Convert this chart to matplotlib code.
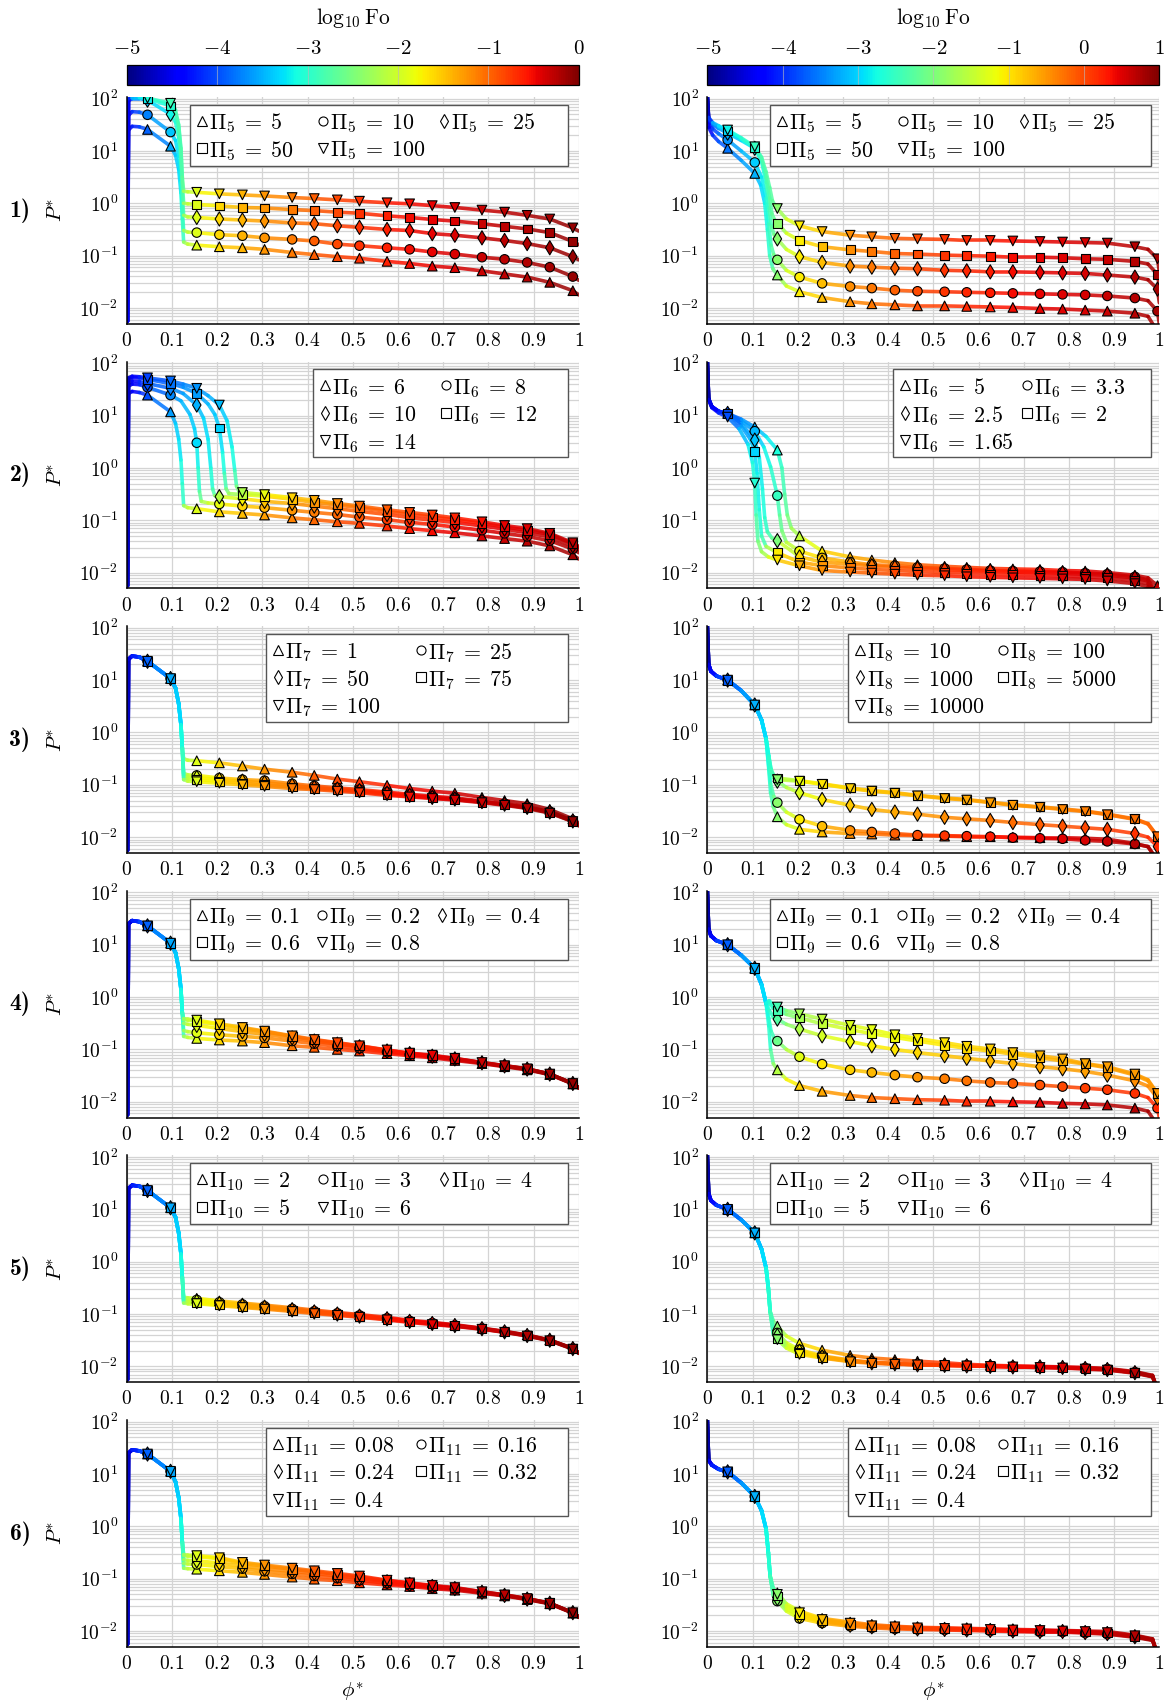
import numpy as np
import matplotlib
matplotlib.use("Agg")
import matplotlib.pyplot as plt
from matplotlib.collections import LineCollection
from matplotlib.colors import Normalize
from matplotlib.cm import ScalarMappable
from matplotlib.patches import Rectangle
from matplotlib.ticker import FixedLocator, LogLocator, NullFormatter

plt.rcParams["mathtext.fontset"] = "cm"
plt.rcParams["font.family"] = ["DejaVu Serif"]

# ---------------------------------------------------------------------------
# marker positions along phi* (shared by every curve of a column)
phi_left = [0.046, 0.097, 0.155, 0.205, 0.256, 0.305, 0.366, 0.415, 0.466, 0.515,
            0.576, 0.626, 0.676, 0.726, 0.786, 0.836, 0.886, 0.936, 0.987]
phi_right = [0.045, 0.105, 0.155, 0.204, 0.254, 0.316, 0.364, 0.415, 0.465, 0.525,
             0.574, 0.626, 0.676, 0.736, 0.786, 0.836, 0.885, 0.946, 0.996]

# log10 P* at the marker positions; extra (phi*, log10 P*) points of each line

# --- row 1, left: Pi_5
r1L_lab = ["5", "10", "25", "50", "100"]
r1L_y0 = [1.41, 1.09, -0.80, -0.83, -0.85, -0.88, -0.94, -0.98, -1.02, -1.05, -1.11, -1.15, -1.20, -1.23, -1.29, -1.35, -1.41, -1.51, -1.67]
r1L_y1 = [1.69, 1.36, -0.56, -0.60, -0.62, -0.66, -0.69, -0.72, -0.78, -0.81, -0.85, -0.88, -0.93, -0.97, -1.03, -1.07, -1.13, -1.22, -1.40]
r1L_y2 = [1.97, 1.70, -0.27, -0.30, -0.32, -0.34, -0.375, -0.39, -0.43, -0.46, -0.50, -0.52, -0.58, -0.61, -0.66, -0.71, -0.77, -0.85, -1.02]
r1L_y3 = [2.0, 1.86, -0.02, -0.05, -0.08, -0.09, -0.12, -0.14, -0.17, -0.19, -0.24, -0.27, -0.31, -0.34, -0.39, -0.44, -0.49, -0.56, -0.73]
r1L_y4 = [2.01, 1.91, 0.21, 0.18, 0.16, 0.14, 0.11, 0.09, 0.065, 0.04, 0.01, -0.01, -0.045, -0.08, -0.13, -0.17, -0.23, -0.30, -0.47]
r1L_k0 = [(0.002, -2.25), (0.004, 1.40), (0.012, 1.47), (0.028, 1.46), (0.108, 0.92), (0.115, 0.65), (0.12, 0.2), (0.123, -0.3), (0.126, -0.74), (0.135, -0.78), (1.0, -1.75)]
r1L_k1 = [(0.002, -2.25), (0.004, 1.68), (0.012, 1.75), (0.028, 1.74), (0.108, 1.2), (0.115, 0.9), (0.12, 0.4), (0.123, -0.1), (0.126, -0.52), (0.135, -0.55), (1.0, -1.47)]
r1L_k2 = [(0.002, -2.25), (0.004, 1.96), (0.012, 2.0), (0.028, 2.0), (0.108, 1.55), (0.115, 1.25), (0.12, 0.8), (0.123, 0.2), (0.126, -0.23), (0.135, -0.26), (1.0, -1.08)]
r1L_k3 = [(0.002, -2.25), (0.004, 1.99), (0.012, 2.02), (0.028, 2.02), (0.108, 1.72), (0.115, 1.45), (0.12, 1.0), (0.123, 0.4), (0.126, 0.0), (0.135, -0.01), (1.0, -0.79)]
r1L_k4 = [(0.002, -2.25), (0.004, 2.0), (0.012, 2.02), (0.028, 2.02), (0.108, 1.78), (0.115, 1.5), (0.12, 1.05), (0.123, 0.5), (0.126, 0.23), (0.135, 0.22), (1.0, -0.53)]

# --- row 1, right: Pi_5
r1R_lab = ["5", "10", "25", "50", "100"]
r1R_y0 = [1.05, 0.57, -1.37, -1.69, -1.80, -1.88, -1.92, -1.94, -1.96, -1.96, -1.97, -1.98, -1.99, -2.01, -2.02, -2.04, -2.06, -2.10, -2.45]
r1R_y1 = [1.21, 0.78, -1.08, -1.41, -1.53, -1.59, -1.62, -1.66, -1.68, -1.69, -1.70, -1.71, -1.72, -1.73, -1.74, -1.75, -1.77, -1.81, -2.06]
r1R_y2 = [1.34, 1.05, -0.68, -1.02, -1.13, -1.20, -1.22, -1.24, -1.25, -1.28, -1.29, -1.31, -1.31, -1.32, -1.33, -1.34, -1.37, -1.41, -1.64]
r1R_y3 = [1.38, 1.06, -0.38, -0.71, -0.83, -0.89, -0.92, -0.96, -0.97, -0.99, -1.00, -1.01, -1.03, -1.03, -1.04, -1.06, -1.07, -1.11, -1.36]
r1R_y4 = [1.40, 1.08, -0.10, -0.43, -0.54, -0.61, -0.64, -0.67, -0.68, -0.69, -0.71, -0.71, -0.72, -0.73, -0.74, -0.75, -0.76, -0.83, -1.06]
r1R_k0 = [(0.0, 2.05), (0.003, 1.45), (0.012, 1.3), (0.025, 1.18), (0.075, 0.82), (0.118, 0.35), (0.127, 0.0), (0.133, -0.5), (0.138, -1.0), (0.145, -1.25), (0.175, -1.58), (0.975, -2.16)]
r1R_k1 = [(0.0, 2.05), (0.003, 1.55), (0.012, 1.42), (0.025, 1.33), (0.075, 1.0), (0.12, 0.5), (0.13, 0.1), (0.136, -0.4), (0.141, -0.8), (0.147, -0.98), (0.175, -1.28), (0.975, -1.86), (1.0, -2.3)]
r1R_k2 = [(0.0, 2.05), (0.003, 1.6), (0.012, 1.5), (0.025, 1.43), (0.075, 1.2), (0.12, 0.8), (0.13, 0.4), (0.137, -0.1), (0.142, -0.45), (0.148, -0.6), (0.175, -0.88), (0.975, -1.46), (1.0, -1.9)]
r1R_k3 = [(0.0, 2.05), (0.003, 1.62), (0.012, 1.52), (0.025, 1.46), (0.075, 1.23), (0.12, 0.85), (0.13, 0.5), (0.138, 0.1), (0.143, -0.2), (0.149, -0.32), (0.175, -0.57), (0.975, -1.16), (1.0, -1.6)]
r1R_k4 = [(0.0, 2.05), (0.003, 1.64), (0.012, 1.54), (0.025, 1.48), (0.075, 1.25), (0.12, 0.88), (0.13, 0.6), (0.138, 0.3), (0.144, 0.05), (0.15, -0.05), (0.175, -0.3), (0.975, -0.88), (1.0, -1.3)]

# --- row 2, left: Pi_6
r2L_lab = ["6", "8", "10", "12", "14"]
r2L_y0 = [1.39, 1.07, -0.78, -0.84, -0.87, -0.90, -0.955, -0.99, -1.03, -1.06, -1.11, -1.16, -1.20, -1.24, -1.30, -1.35, -1.40, -1.49, -1.66]
r2L_y1 = [1.54, 1.39, 0.48, -0.69, -0.73, -0.76, -0.81, -0.85, -0.89, -0.94, -0.99, -1.04, -1.08, -1.13, -1.19, -1.25, -1.31, -1.39, -1.55]
r2L_y2 = [1.61, 1.52, 1.20, -0.55, -0.59, -0.64, -0.68, -0.73, -0.78, -0.83, -0.89, -0.95, -1.00, -1.04, -1.11, -1.17, -1.24, -1.32, -1.49]
r2L_y3 = [1.69, 1.61, 1.42, 0.76, -0.51, -0.54, -0.60, -0.66, -0.71, -0.76, -0.83, -0.89, -0.94, -0.99, -1.06, -1.13, -1.19, -1.27, -1.45]
r2L_y4 = [1.72, 1.66, 1.52, 1.20, -0.47, -0.51, -0.57, -0.62, -0.68, -0.73, -0.80, -0.85, -0.90, -0.955, -1.03, -1.10, -1.16, -1.25, -1.43]
r2L_k0 = [(0.002, -2.25), (0.004, 1.42), (0.012, 1.46), (0.028, 1.44), (0.108, 0.85), (0.115, 0.55), (0.12, 0.15), (0.123, -0.3), (0.126, -0.72), (0.135, -0.76), (1.0, -1.74)]
r2L_k1 = [(0.002, -2.25), (0.004, 1.56), (0.012, 1.6), (0.028, 1.59), (0.12, 1.28), (0.14, 1.02), (0.15, 0.75), (0.158, 0.0), (0.161, -0.45), (0.165, -0.64), (0.18, -0.67), (1.0, -1.62)]
r2L_k2 = [(0.002, -2.25), (0.004, 1.62), (0.012, 1.66), (0.028, 1.65), (0.125, 1.42), (0.17, 0.95), (0.18, 0.55), (0.186, 0.0), (0.19, -0.4), (0.195, -0.53), (1.0, -1.56)]
r2L_k3 = [(0.002, -2.25), (0.004, 1.7), (0.012, 1.73), (0.028, 1.72), (0.125, 1.54), (0.18, 1.22), (0.195, 1.02), (0.212, 0.3), (0.216, -0.1), (0.22, -0.4), (0.226, -0.49), (1.0, -1.52)]
r2L_k4 = [(0.002, -2.25), (0.004, 1.72), (0.012, 1.75), (0.028, 1.74), (0.125, 1.6), (0.18, 1.38), (0.222, 0.9), (0.233, 0.4), (0.239, -0.05), (0.243, -0.35), (0.249, -0.46), (1.0, -1.50)]

# --- row 2, right: Pi_6
r2R_lab = ["5", "3.3", "2.5", "2", "1.65"]
r2R_y0 = [1.04, 0.78, 0.34, -1.30, -1.59, -1.70, -1.76, -1.81, -1.85, -1.88, -1.90, -1.92, -1.93, -1.94, -1.96, -1.97, -2.00, -2.05, -2.25]
r2R_y1 = [1.04, 0.70, -0.53, -1.59, -1.72, -1.80, -1.85, -1.87, -1.90, -1.92, -1.94, -1.96, -1.97, -1.98, -1.99, -2.01, -2.03, -2.08, -2.40]
r2R_y2 = [1.04, 0.53, -1.39, -1.70, -1.80, -1.84, -1.87, -1.90, -1.92, -1.94, -1.96, -1.97, -1.99, -2.00, -2.01, -2.03, -2.05, -2.10, -2.45]
r2R_y3 = [1.04, 0.32, -1.62, -1.80, -1.87, -1.91, -1.94, -1.96, -1.98, -2.00, -2.01, -2.03, -2.04, -2.05, -2.06, -2.08, -2.10, -2.15, -2.50]
r2R_y4 = [0.97, -0.29, -1.76, -1.87, -1.96, -1.99, -2.01, -2.03, -2.05, -2.06, -2.08, -2.09, -2.10, -2.11, -2.12, -2.13, -2.16, -2.21, -2.55]
r2R_k0 = [(0.0, 2.05), (0.003, 1.32), (0.01, 1.17), (0.025, 1.08), (0.075, 0.93), (0.13, 0.6), (0.165, 0.0), (0.171, -0.5), (0.177, -0.9), (0.186, -1.15), (0.975, -2.1), (1.0, -2.35)]
r2R_k1 = [(0.0, 2.05), (0.003, 1.32), (0.01, 1.17), (0.025, 1.08), (0.075, 0.9), (0.125, 0.4), (0.14, 0.02), (0.16, -0.9), (0.165, -1.2), (0.175, -1.42), (0.975, -2.14)]
r2R_k2 = [(0.0, 2.05), (0.003, 1.32), (0.01, 1.17), (0.025, 1.08), (0.075, 0.85), (0.115, 0.2), (0.122, -0.4), (0.127, -0.95), (0.133, -1.22), (0.143, -1.34), (0.975, -2.16)]
r2R_k3 = [(0.0, 2.05), (0.003, 1.32), (0.01, 1.17), (0.025, 1.08), (0.075, 0.8), (0.095, 0.55), (0.11, -0.1), (0.115, -0.8), (0.12, -1.3), (0.13, -1.5), (0.975, -2.21)]
r2R_k4 = [(0.0, 2.05), (0.003, 1.30), (0.01, 1.15), (0.025, 1.05), (0.07, 0.75), (0.09, 0.45), (0.1, 0.1), (0.108, -0.9), (0.112, -1.4), (0.12, -1.6), (0.135, -1.7), (0.975, -2.27)]

# --- row 3, left: Pi_7
r3L_lab = ["1", "25", "50", "75", "100"]
r3L_y0 = [1.36, 1.03, -0.54, -0.58, -0.64, -0.70, -0.76, -0.82, -0.89, -0.94, -1.01, -1.07, -1.12, -1.16, -1.24, -1.30, -1.36, -1.47, -1.65]
r3L_y1 = [1.36, 1.03, -0.82, -0.87, -0.90, -0.92, -0.98, -1.02, -1.06, -1.09, -1.14, -1.18, -1.22, -1.25, -1.31, -1.36, -1.42, -1.51, -1.68]
r3L_y2 = [1.36, 1.03, -0.86, -0.90, -0.93, -0.96, -1.01, -1.05, -1.08, -1.11, -1.16, -1.20, -1.24, -1.27, -1.32, -1.37, -1.43, -1.52, -1.69]
r3L_y3 = [1.36, 1.03, -0.90, -0.93, -0.97, -1.00, -1.04, -1.07, -1.10, -1.13, -1.18, -1.22, -1.25, -1.28, -1.33, -1.38, -1.44, -1.53, -1.70]
r3L_y4 = [1.36, 1.03, -0.94, -0.97, -1.00, -1.03, -1.07, -1.09, -1.12, -1.15, -1.20, -1.23, -1.26, -1.29, -1.34, -1.39, -1.45, -1.54, -1.70]
left_head = [(0.002, -2.25), (0.004, 1.40), (0.012, 1.46), (0.028, 1.44), (0.108, 0.85), (0.115, 0.55), (0.12, 0.15), (0.123, -0.3)]
r3L_k0 = [(0.126, -0.5), (0.135, -0.53), (1.0, -1.73)]
r3L_k1 = [(0.126, -0.78), (0.135, -0.81), (1.0, -1.76)]
r3L_k2 = [(0.126, -0.82), (0.135, -0.85), (1.0, -1.77)]
r3L_k3 = [(0.126, -0.86), (0.135, -0.89), (1.0, -1.78)]
r3L_k4 = [(0.126, -0.90), (0.135, -0.93), (1.0, -1.78)]

# --- row 3, right: Pi_8
r3R_lab = ["10", "100", "1000", "5000", "10000"]
r3R_y0 = [1.0, 0.525, -1.61, -1.85, -1.90, -1.93, -1.94, -1.96, -1.97, -1.98, -1.99, -1.99, -2.0, -2.01, -2.01, -2.02, -2.04, -2.12, -2.45]
r3R_y1 = [1.0, 0.525, -1.34, -1.66, -1.79, -1.87, -1.90, -1.93, -1.96, -1.97, -1.98, -1.99, -2.01, -2.02, -2.03, -2.06, -2.08, -2.13, -2.45]
r3R_y2 = [1.0, 0.525, -0.93, -1.15, -1.28, -1.39, -1.47, -1.52, -1.56, -1.62, -1.65, -1.68, -1.72, -1.76, -1.79, -1.82, -1.85, -1.93, -2.18]
r3R_y3 = [1.0, 0.525, -0.87, -0.92, -0.98, -1.06, -1.11, -1.15, -1.20, -1.25, -1.28, -1.33, -1.38, -1.42, -1.46, -1.50, -1.56, -1.65, -1.98]
r3R_y4 = [1.0, 0.525, -0.90, -0.93, -0.99, -1.07, -1.12, -1.16, -1.21, -1.26, -1.29, -1.34, -1.39, -1.43, -1.47, -1.51, -1.57, -1.66, -1.99]
right_head = [(0.0, 2.05), (0.003, 1.3), (0.008, 1.17), (0.02, 1.08), (0.075, 0.8), (0.12, 0.24), (0.13, -0.12)]
r3R_k0 = [(0.136, -0.7), (0.14, -1.15), (0.146, -1.42), (0.175, -1.76), (0.975, -2.18)]
r3R_k1 = [(0.136, -0.65), (0.14, -0.98), (0.147, -1.22), (0.175, -1.52), (0.975, -2.18)]
r3R_k2 = [(0.136, -0.5), (0.141, -0.75), (0.147, -0.87), (0.175, -1.05), (0.975, -2.0), (1.0, -2.35)]
r3R_k3 = [(0.136, -0.45), (0.141, -0.7), (0.147, -0.82), (0.975, -1.74), (1.0, -2.1)]
r3R_k4 = [(0.136, -0.45), (0.141, -0.72), (0.147, -0.85), (0.975, -1.75), (1.0, -2.1)]

# --- row 4, left: Pi_9
r4L_lab = ["0.1", "0.2", "0.4", "0.6", "0.8"]
r4L_y0 = [1.36, 1.03, -0.79, -0.82, -0.84, -0.87, -0.93, -0.96, -1.00, -1.03, -1.08, -1.12, -1.16, -1.21, -1.27, -1.33, -1.39, -1.48, -1.66]
r4L_y1 = [1.36, 1.03, -0.68, -0.72, -0.75, -0.78, -0.84, -0.89, -0.94, -0.98, -1.05, -1.10, -1.14, -1.19, -1.26, -1.32, -1.38, -1.475, -1.655]
r4L_y2 = [1.36, 1.03, -0.54, -0.60, -0.66, -0.71, -0.78, -0.84, -0.90, -0.95, -1.03, -1.08, -1.13, -1.18, -1.255, -1.315, -1.375, -1.47, -1.65]
r4L_y3 = [1.36, 1.03, -0.46, -0.53, -0.60, -0.66, -0.75, -0.82, -0.88, -0.935, -1.015, -1.075, -1.12, -1.175, -1.25, -1.31, -1.37, -1.47, -1.65]
r4L_y4 = [1.36, 1.03, -0.44, -0.51, -0.58, -0.65, -0.74, -0.81, -0.87, -0.93, -1.01, -1.07, -1.11, -1.17, -1.25, -1.31, -1.37, -1.47, -1.65]
r4L_k0 = [(0.126, -0.75), (0.135, -0.77), (1.0, -1.74)]
r4L_k1 = [(0.126, -0.64), (0.135, -0.66), (1.0, -1.73)]
r4L_k2 = [(0.126, -0.5), (0.135, -0.52), (1.0, -1.73)]
r4L_k3 = [(0.126, -0.43), (0.135, -0.44), (1.0, -1.73)]
r4L_k4 = [(0.126, -0.41), (0.135, -0.42), (1.0, -1.73)]

# --- row 4, right: Pi_9
r4R_lab = ["0.1", "0.2", "0.4", "0.6", "0.8"]
r4R_y0 = [1.0, 0.55, -1.39, -1.69, -1.80, -1.88, -1.92, -1.94, -1.96, -1.97, -1.99, -1.99, -2.0, -2.01, -2.03, -2.04, -2.06, -2.12, -2.45]
r4R_y1 = [1.0, 0.55, -0.84, -1.14, -1.28, -1.39, -1.44, -1.49, -1.53, -1.56, -1.60, -1.63, -1.65, -1.68, -1.71, -1.74, -1.77, -1.84, -2.12]
r4R_y2 = [1.0, 0.55, -0.42, -0.61, -0.74, -0.85, -0.93, -1.0, -1.06, -1.12, -1.17, -1.22, -1.27, -1.33, -1.37, -1.42, -1.49, -1.60, -1.93]
r4R_y3 = [1.0, 0.55, -0.25, -0.40, -0.51, -0.62, -0.70, -0.77, -0.84, -0.92, -0.98, -1.03, -1.09, -1.16, -1.22, -1.28, -1.35, -1.49, -1.85]
r4R_y4 = [1.0, 0.55, -0.19, -0.32, -0.42, -0.54, -0.62, -0.72, -0.79, -0.87, -0.94, -0.99, -1.06, -1.12, -1.18, -1.27, -1.33, -1.47, -1.84]
r4R_k0 = [(0.136, -0.55), (0.14, -1.0), (0.146, -1.27), (0.175, -1.57), (0.975, -2.18)]
r4R_k1 = [(0.136, -0.4), (0.141, -0.65), (0.148, -0.78), (0.175, -1.0), (0.975, -1.92), (1.0, -2.3)]
r4R_k2 = [(0.137, -0.25), (0.146, -0.38), (0.175, -0.52), (0.975, -1.7), (1.0, -2.1)]
r4R_k3 = [(0.137, -0.12), (0.146, -0.21), (0.175, -0.33), (0.975, -1.6), (1.0, -2.0)]
r4R_k4 = [(0.137, -0.07), (0.146, -0.15), (0.175, -0.26), (0.975, -1.58), (1.0, -2.0)]

# --- row 5, left: Pi_10
r5L_lab = ["2", "3", "4", "5", "6"]
r5L_y0 = [1.36, 1.03, -0.70, -0.75, -0.79, -0.83, -0.88, -0.925, -0.97, -1.01, -1.065, -1.12, -1.16, -1.205, -1.27, -1.33, -1.40, -1.495, -1.655]
r5L_y1 = [1.36, 1.03, -0.73, -0.775, -0.815, -0.85, -0.90, -0.945, -0.985, -1.025, -1.08, -1.13, -1.17, -1.215, -1.275, -1.335, -1.405, -1.50, -1.66]
r5L_y2 = [1.36, 1.03, -0.76, -0.80, -0.84, -0.87, -0.92, -0.96, -1.0, -1.04, -1.09, -1.14, -1.18, -1.22, -1.28, -1.34, -1.41, -1.50, -1.66]
r5L_y3 = [1.36, 1.03, -0.785, -0.82, -0.86, -0.89, -0.935, -0.975, -1.01, -1.05, -1.10, -1.15, -1.19, -1.23, -1.285, -1.345, -1.415, -1.505, -1.665]
r5L_y4 = [1.36, 1.03, -0.80, -0.84, -0.875, -0.905, -0.95, -0.99, -1.025, -1.06, -1.11, -1.16, -1.20, -1.235, -1.29, -1.35, -1.42, -1.51, -1.67]
r5L_k0 = [(0.126, -0.68), (0.135, -0.69), (1.0, -1.74)]
r5L_k1 = [(0.126, -0.71), (0.135, -0.72), (1.0, -1.74)]
r5L_k2 = [(0.126, -0.74), (0.135, -0.75), (1.0, -1.74)]
r5L_k3 = [(0.126, -0.77), (0.135, -0.78), (1.0, -1.75)]
r5L_k4 = [(0.126, -0.79), (0.135, -0.80), (1.0, -1.75)]

# --- row 5, right: Pi_10
r5R_lab = ["2", "3", "4", "5", "6"]
r5R_y0 = [1.0, 0.55, -1.23, -1.56, -1.69, -1.79, -1.84, -1.87, -1.90, -1.93, -1.96, -1.98, -1.99, -2.0, -2.01, -2.02, -2.04, -2.10, -2.45]
r5R_y1 = [1.0, 0.55, -1.36, -1.68, -1.80, -1.88, -1.92, -1.94, -1.96, -1.97, -1.98, -1.99, -2.0, -2.01, -2.02, -2.03, -2.05, -2.11, -2.45]
r5R_y2 = [1.0, 0.55, -1.41, -1.71, -1.82, -1.89, -1.93, -1.95, -1.97, -1.98, -1.99, -2.0, -2.01, -2.01, -2.02, -2.04, -2.06, -2.12, -2.45]
r5R_y3 = [1.0, 0.55, -1.46, -1.74, -1.83, -1.90, -1.93, -1.95, -1.97, -1.98, -1.99, -2.0, -2.01, -2.02, -2.03, -2.04, -2.06, -2.12, -2.45]
r5R_y4 = [1.0, 0.55, -1.49, -1.77, -1.84, -1.91, -1.94, -1.96, -1.97, -1.98, -1.99, -2.0, -2.01, -2.02, -2.03, -2.05, -2.07, -2.13, -2.45]
r5R_k0 = [(0.135, -0.5), (0.139, -0.95), (0.146, -1.13), (0.175, -1.42), (0.985, -2.17)]
r5R_k1 = [(0.135, -0.5), (0.139, -0.95), (0.146, -1.26), (0.175, -1.55), (0.985, -2.18)]
r5R_k2 = [(0.135, -0.5), (0.139, -0.95), (0.146, -1.31), (0.175, -1.59), (0.985, -2.19)]
r5R_k3 = [(0.135, -0.5), (0.139, -0.95), (0.146, -1.36), (0.175, -1.62), (0.985, -2.19)]
r5R_k4 = [(0.135, -0.5), (0.139, -0.95), (0.146, -1.39), (0.175, -1.65), (0.985, -2.2)]

# --- row 6, left: Pi_11
r6L_lab = ["0.08", "0.16", "0.24", "0.32", "0.4"]
r6L_y0 = [1.38, 1.05, -0.82, -0.85, -0.88, -0.92, -0.97, -1.01, -1.04, -1.08, -1.12, -1.15, -1.19, -1.22, -1.28, -1.33, -1.40, -1.48, -1.66]
r6L_y1 = [1.38, 1.05, -0.73, -0.77, -0.81, -0.86, -0.91, -0.95, -0.99, -1.03, -1.09, -1.13, -1.17, -1.20, -1.27, -1.32, -1.39, -1.475, -1.655]
r6L_y2 = [1.38, 1.05, -0.66, -0.70, -0.76, -0.81, -0.86, -0.90, -0.95, -1.0, -1.06, -1.11, -1.15, -1.19, -1.26, -1.32, -1.39, -1.47, -1.65]
r6L_y3 = [1.38, 1.05, -0.58, -0.62, -0.71, -0.76, -0.82, -0.87, -0.92, -0.97, -1.04, -1.09, -1.14, -1.18, -1.25, -1.31, -1.38, -1.47, -1.65]
r6L_y4 = [1.38, 1.05, -0.56, -0.60, -0.69, -0.74, -0.80, -0.85, -0.90, -0.95, -1.03, -1.08, -1.13, -1.17, -1.25, -1.31, -1.38, -1.47, -1.65]
r6L_k0 = [(0.126, -0.80), (0.135, -0.81), (1.0, -1.74)]
r6L_k1 = [(0.126, -0.71), (0.135, -0.72), (1.0, -1.73)]
r6L_k2 = [(0.126, -0.64), (0.135, -0.65), (1.0, -1.73)]
r6L_k3 = [(0.126, -0.56), (0.135, -0.57), (1.0, -1.73)]
r6L_k4 = [(0.126, -0.54), (0.135, -0.55), (1.0, -1.73)]

# --- row 6, right: Pi_11
r6R_lab = ["0.08", "0.16", "0.24", "0.32", "0.4"]
r6R_y0 = [1.04, 0.57, -1.27, -1.62, -1.76, -1.83, -1.88, -1.91, -1.93, -1.94, -1.95, -1.96, -1.97, -1.98, -1.99, -2.0, -2.01, -2.08, -2.45]
r6R_y1 = [1.04, 0.57, -1.43, -1.76, -1.85, -1.91, -1.94, -1.96, -1.97, -1.98, -1.99, -2.0, -2.01, -2.02, -2.02, -2.04, -2.06, -2.12, -2.45]
r6R_y2 = [1.04, 0.57, -1.38, -1.72, -1.82, -1.89, -1.92, -1.94, -1.96, -1.97, -1.98, -1.99, -2.0, -2.01, -2.01, -2.03, -2.05, -2.11, -2.45]
r6R_y3 = [1.04, 0.57, -1.33, -1.68, -1.80, -1.87, -1.91, -1.93, -1.95, -1.96, -1.97, -1.98, -1.99, -2.0, -2.0, -2.02, -2.04, -2.10, -2.45]
r6R_y4 = [1.04, 0.57, -1.30, -1.65, -1.78, -1.85, -1.90, -1.92, -1.94, -1.95, -1.96, -1.97, -1.98, -1.99, -2.0, -2.01, -2.03, -2.09, -2.45]
right_head6 = [(0.0, 2.05), (0.003, 1.26), (0.01, 1.17), (0.025, 1.09), (0.075, 0.83), (0.12, 0.3), (0.13, -0.05), (0.135, -0.5), (0.139, -0.95)]
r6R_k0 = [(0.146, -1.18), (0.175, -1.48), (0.985, -2.15)]
r6R_k1 = [(0.146, -1.33), (0.175, -1.62), (0.985, -2.18)]
r6R_k2 = [(0.146, -1.29), (0.175, -1.58), (0.985, -2.17)]
r6R_k3 = [(0.146, -1.25), (0.175, -1.54), (0.985, -2.17)]
r6R_k4 = [(0.146, -1.22), (0.175, -1.51), (0.985, -2.16)]

# ---------------------------------------------------------------------------
# log10 Fo along phi*: (phi*, log10 Fo) pairs
fo_left_early = [(0.0, -5.0), (0.003, -4.7), (0.02, -4.2), (0.046, -3.9), (0.097, -3.55), (0.118, -3.3), (0.124, -3.0)]
fo_left_late = [(0.128, -2.3), (0.155, -1.9), (0.205, -1.6), (0.256, -1.4), (0.305, -1.25), (0.366, -1.1), (0.415, -0.95),
                (0.515, -0.72), (0.626, -0.52), (0.786, -0.32), (0.936, -0.17), (1.0, -0.08)]
fo_right_early = [(0.0, -5.0), (0.004, -4.5), (0.02, -4.0), (0.045, -3.7), (0.105, -3.2), (0.125, -2.95), (0.138, -2.6)]
fo_right_late = [(0.147, -2.2), (0.155, -1.9), (0.204, -1.05), (0.254, -0.75), (0.316, -0.45), (0.415, -0.15), (0.525, 0.12),
                 (0.676, 0.38), (0.836, 0.55), (1.0, 0.8)]

fo_r1L_e1 = [(0.0, -5.0), (0.003, -4.7), (0.02, -4.1), (0.046, -3.75), (0.097, -3.4), (0.118, -3.2), (0.124, -3.0)]
fo_r1L_e2 = [(0.0, -5.0), (0.003, -4.6), (0.02, -3.8), (0.046, -3.45), (0.097, -3.15), (0.118, -3.05), (0.124, -2.95)]
fo_r1L_e3 = [(0.0, -5.0), (0.003, -4.5), (0.02, -3.6), (0.046, -3.2), (0.097, -3.0), (0.118, -2.9), (0.124, -2.85)]
fo_r1L_e4 = [(0.0, -5.0), (0.003, -4.5), (0.02, -3.4), (0.046, -3.05), (0.097, -2.85), (0.118, -2.8), (0.124, -2.75)]
fo_r1R_e0 = [(0.0, -5.0), (0.004, -4.5), (0.02, -3.9), (0.045, -3.55), (0.105, -3.2), (0.125, -2.95), (0.136, -2.6)]
fo_r1R_e1 = [(0.0, -5.0), (0.004, -4.4), (0.02, -3.75), (0.045, -3.4), (0.105, -3.05), (0.125, -2.85), (0.138, -2.5)]
fo_r1R_e2 = [(0.0, -5.0), (0.004, -4.3), (0.02, -3.5), (0.045, -3.2), (0.105, -2.85), (0.125, -2.7), (0.14, -2.4)]
fo_r1R_e3 = [(0.0, -5.0), (0.004, -4.2), (0.02, -3.3), (0.045, -2.95), (0.105, -2.65), (0.125, -2.5), (0.142, -2.25)]
fo_r1R_e4 = [(0.0, -5.0), (0.004, -4.1), (0.02, -3.1), (0.045, -2.8), (0.105, -2.5), (0.125, -2.35), (0.144, -2.25)]

fo_r2L_0 = [(0.0, -5.0), (0.003, -4.7), (0.046, -4.0), (0.097, -3.6), (0.12, -3.2), (0.126, -2.9), (0.13, -2.2), (0.155, -1.9),
            (0.205, -1.6), (0.256, -1.45), (0.305, -1.3), (0.415, -1.0), (0.515, -0.78), (0.626, -0.58), (0.786, -0.38), (1.0, -0.15)]
fo_r2L_1 = [(0.0, -5.0), (0.003, -4.7), (0.046, -4.0), (0.097, -3.7), (0.155, -3.3), (0.161, -2.9), (0.167, -2.2), (0.205, -1.85),
            (0.256, -1.6), (0.305, -1.4), (0.415, -1.1), (0.515, -0.88), (0.626, -0.68), (0.786, -0.43), (1.0, -0.2)]
fo_r2L_2 = [(0.0, -5.0), (0.003, -4.7), (0.046, -4.0), (0.097, -3.75), (0.155, -3.5), (0.185, -3.2), (0.191, -2.9), (0.197, -2.4),
            (0.205, -2.15), (0.256, -1.75), (0.305, -1.5), (0.415, -1.15), (0.515, -0.93), (0.626, -0.73), (0.786, -0.48), (1.0, -0.22)]
fo_r2L_3 = [(0.0, -5.0), (0.003, -4.7), (0.046, -4.0), (0.097, -3.8), (0.155, -3.6), (0.205, -3.35), (0.215, -3.1), (0.222, -2.5),
            (0.256, -2.1), (0.305, -1.7), (0.415, -1.25), (0.515, -0.98), (0.626, -0.78), (0.786, -0.52), (1.0, -0.25)]
fo_r2L_4 = [(0.0, -5.0), (0.003, -4.7), (0.046, -4.05), (0.097, -3.85), (0.155, -3.65), (0.205, -3.45), (0.238, -3.1), (0.245, -2.5),
            (0.256, -2.2), (0.305, -1.85), (0.415, -1.35), (0.515, -1.03), (0.626, -0.83), (0.786, -0.53), (1.0, -0.25)]

fo_r2R_0 = [(0.0, -5.0), (0.004, -4.5), (0.045, -3.8), (0.105, -3.2), (0.155, -2.7), (0.17, -2.4), (0.185, -1.9), (0.204, -1.5),
            (0.254, -1.0), (0.316, -0.7), (0.415, -0.35), (0.525, -0.05), (0.7, 0.25), (0.85, 0.45), (1.0, 0.7)]
fo_r2R_1 = [(0.0, -5.0), (0.004, -4.5), (0.045, -3.8), (0.105, -3.15), (0.155, -2.5), (0.165, -2.1), (0.204, -1.15), (0.254, -0.8),
            (0.316, -0.55), (0.415, -0.25), (0.525, 0.05), (0.7, 0.3), (0.85, 0.5), (1.0, 0.7)]
fo_r2R_2 = [(0.0, -5.0), (0.004, -4.5), (0.045, -3.8), (0.105, -3.1), (0.125, -2.7), (0.155, -2.0), (0.204, -0.9), (0.254, -0.65),
            (0.316, -0.45), (0.415, -0.15), (0.525, 0.1), (0.7, 0.35), (0.85, 0.5), (1.0, 0.7)]
fo_r2R_3 = [(0.0, -5.0), (0.004, -4.5), (0.045, -3.8), (0.105, -3.0), (0.12, -2.6), (0.155, -1.05), (0.204, -0.7), (0.254, -0.5),
            (0.316, -0.3), (0.415, -0.05), (0.525, 0.15), (0.7, 0.35), (0.85, 0.5), (1.0, 0.7)]
fo_r2R_4 = [(0.0, -5.0), (0.004, -4.5), (0.045, -3.8), (0.105, -2.65), (0.115, -2.0), (0.155, -1.0), (0.204, -0.65), (0.254, -0.45),
            (0.316, -0.25), (0.415, 0.0), (0.525, 0.2), (0.7, 0.4), (0.85, 0.55), (1.0, 0.75)]

fo_r3R_late2 = [(0.147, -2.3), (0.155, -2.0), (0.205, -1.3), (0.255, -1.0), (0.318, -0.8), (0.417, -0.6), (0.526, -0.45), (0.7, -0.2), (0.836, 0.0), (1.0, 0.2)]
fo_r3R_late3 = [(0.147, -2.3), (0.155, -1.9), (0.205, -1.15), (0.255, -1.0), (0.318, -0.85), (0.417, -0.75), (0.526, -0.65), (0.7, -0.5), (0.836, -0.35), (1.0, -0.2)]
fo_r4R_late0 = [(0.147, -2.0), (0.155, -1.6), (0.205, -0.85), (0.255, -0.6), (0.318, -0.4), (0.417, -0.1), (0.526, 0.12), (0.7, 0.42), (0.836, 0.6), (1.0, 0.8)]
fo_r4R_late1 = [(0.147, -2.4), (0.155, -2.1), (0.205, -1.25), (0.255, -1.0), (0.318, -0.85), (0.417, -0.6), (0.526, -0.35), (0.7, -0.1), (0.836, 0.05), (1.0, 0.2)]
fo_r4R_late2 = [(0.147, -2.5), (0.155, -2.3), (0.205, -1.6), (0.255, -1.35), (0.318, -1.15), (0.417, -1.0), (0.526, -0.8), (0.7, -0.65), (0.836, -0.55), (1.0, -0.4)]
fo_r4R_late3 = [(0.147, -2.6), (0.155, -2.4), (0.205, -1.7), (0.255, -1.5), (0.318, -1.3), (0.417, -1.15), (0.526, -1.0), (0.7, -0.75), (0.836, -0.6), (1.0, -0.5)]

# ---------------------------------------------------------------------------
cmap = plt.get_cmap("jet")
norm_left = Normalize(-5, 0)
norm_right = Normalize(-5, 1)
MARKERS = ["^", "o", "d", "s", "v"]
MSIZE = [48, 46, 52, 40, 48]

FIG_W, FIG_H = 1173, 1707
fig = plt.figure(figsize=(FIG_W / 100, FIG_H / 100), dpi=100)

COL_X = [126.7, 707.3]
COL_W = 452.0
ROW_TOP0, ROW_STEP, AX_H = 97.0, 264.6, 226.7
YLO, YHI = 10 ** -2.3, 10 ** 2.03


def draw_curve(ax, xs, ylog, knots, fo_tab, norm, k):
    pts = sorted(list(zip(xs, ylog)) + list(knots), key=lambda p: p[0])
    px = np.array([p[0] for p in pts])
    py = 10.0 ** np.array([p[1] for p in pts])
    segs = np.stack([np.column_stack([px[:-1], py[:-1]]),
                     np.column_stack([px[1:], py[1:]])], axis=1)
    fx = [p[0] for p in fo_tab]
    fv = [p[1] for p in fo_tab]
    seg_fo = np.interp(0.5 * (px[:-1] + px[1:]), fx, fv)
    lc = LineCollection(segs, colors=cmap(norm(seg_fo)), linewidths=2.6,
                        alpha=0.85, capstyle="round", joinstyle="round", zorder=2)
    ax.add_collection(lc)
    mfo = np.interp(xs, fx, fv)
    ax.scatter(xs, 10.0 ** np.array(ylog), c=cmap(norm(mfo)), marker=MARKERS[k],
               s=MSIZE[k], edgecolors="black", linewidths=0.8, zorder=3)


def setup_axes(row, col):
    top = ROW_TOP0 + ROW_STEP * row
    ax = fig.add_axes([COL_X[col] / FIG_W, 1 - (top + AX_H) / FIG_H, COL_W / FIG_W, AX_H / FIG_H])
    ax.set_yscale("log")
    ax.set_xlim(0, 1)
    ax.set_ylim(YLO, YHI)
    ax.set_axisbelow(True)
    xt = np.round(np.arange(0, 1.01, 0.1), 1)
    ax.xaxis.set_major_locator(FixedLocator(xt))
    ax.set_xticklabels(["$0$"] + ["$%.1f$" % v for v in xt[1:-1]] + ["$1$"], fontsize=14)
    yt = [1e-2, 1e-1, 1e0, 1e1, 1e2]
    ax.yaxis.set_major_locator(FixedLocator(yt))
    ax.set_yticklabels(["$10^{%d}$" % e for e in range(-2, 3)], fontsize=14)
    ax.yaxis.set_minor_locator(LogLocator(base=10, subs=np.arange(2, 10)))
    ax.yaxis.set_minor_formatter(NullFormatter())
    ax.grid(True, which="major", axis="both", color="#d4d4d4", lw=0.9)
    ax.grid(True, which="minor", axis="y", color="#d4d4d4", lw=0.9)
    ax.tick_params(which="both", length=0, pad=6)
    for s in ("top", "right"):
        ax.spines[s].set_visible(False)
    for s in ("left", "bottom"):
        ax.spines[s].set_linewidth(1.1)
    return ax


def draw_key(ax, sym, labels, box, ncol, pitch):
    """Framed key: entries laid out row by row inside a fixed box (axes fraction)."""
    x0, x1 = box
    nrow = (len(labels) + ncol - 1) // ncol
    h_px = 61.0 if nrow == 2 else 88.0
    y_top = 0.966
    y_bot = y_top - h_px / AX_H
    ax.add_patch(Rectangle((x0, y_bot), x1 - x0, y_top - y_bot, transform=ax.transAxes,
                           facecolor="white", edgecolor="#555555", lw=1.0, zorder=5))
    for i, lab in enumerate(labels):
        r, c = divmod(i, ncol)
        mx = x0 + (12.0 + c * pitch) / COL_W
        my = y_top - (16.0 + r * 27.5) / AX_H
        ax.plot([mx], [my], ls="none", marker=MARKERS[i], ms=6.5 if i != 2 else 7.5,
                mfc="white", mec="black", mew=0.8, transform=ax.transAxes, zorder=6, clip_on=False)
        ax.text(mx + 7.0 / COL_W, my, r"$\Pi_{%s}\;=\;%s$" % (sym, lab), transform=ax.transAxes,
                fontsize=15.8, ha="left", va="center_baseline", zorder=6)


panels = [
    # (row, col, symbol, labels, xs, ys, knots, fo tables, key box, ncol, column pitch)
    (0, 0, "5", r1L_lab, phi_left, [r1L_y0, r1L_y1, r1L_y2, r1L_y3, r1L_y4],
     [r1L_k0, r1L_k1, r1L_k2, r1L_k3, r1L_k4],
     [fo_left_early + fo_left_late, fo_r1L_e1 + fo_left_late, fo_r1L_e2 + fo_left_late,
      fo_r1L_e3 + fo_left_late, fo_r1L_e4 + fo_left_late], (0.140, 0.976), 3, 121),
    (0, 1, "5", r1R_lab, phi_right, [r1R_y0, r1R_y1, r1R_y2, r1R_y3, r1R_y4],
     [r1R_k0, r1R_k1, r1R_k2, r1R_k3, r1R_k4],
     [fo_r1R_e0 + fo_right_late, fo_r1R_e1 + fo_right_late, fo_r1R_e2 + fo_right_late,
      fo_r1R_e3 + fo_right_late, fo_r1R_e4 + fo_right_late], (0.138, 0.981), 3, 121),
    (1, 0, "6", r2L_lab, phi_left, [r2L_y0, r2L_y1, r2L_y2, r2L_y3, r2L_y4],
     [r2L_k0, r2L_k1, r2L_k2, r2L_k3, r2L_k4],
     [fo_r2L_0, fo_r2L_1, fo_r2L_2, fo_r2L_3, fo_r2L_4], (0.413, 0.976), 2, 121),
    (1, 1, "6", r2R_lab, phi_right, [r2R_y0, r2R_y1, r2R_y2, r2R_y3, r2R_y4],
     [r2R_k0, r2R_k1, r2R_k2, r2R_k3, r2R_k4],
     [fo_r2R_0, fo_r2R_1, fo_r2R_2, fo_r2R_3, fo_r2R_4], (0.411, 0.981), 2, 122),
    (2, 0, "7", r3L_lab, phi_left, [r3L_y0, r3L_y1, r3L_y2, r3L_y3, r3L_y4],
     [left_head + r3L_k0, left_head + r3L_k1, left_head + r3L_k2, left_head + r3L_k3, left_head + r3L_k4],
     [fo_left_early + fo_left_late] * 5, (0.309, 0.976), 2, 143),
    (2, 1, "8", r3R_lab, phi_right, [r3R_y0, r3R_y1, r3R_y2, r3R_y3, r3R_y4],
     [right_head + r3R_k0, right_head + r3R_k1, right_head + r3R_k2, right_head + r3R_k3, right_head + r3R_k4],
     [fo_right_early + fo_right_late, fo_right_early + fo_right_late, fo_right_early + fo_r3R_late2,
      fo_right_early + fo_r3R_late3, fo_right_early + fo_r3R_late3], (0.312, 0.981), 2, 143),
    (3, 0, "9", r4L_lab, phi_left, [r4L_y0, r4L_y1, r4L_y2, r4L_y3, r4L_y4],
     [left_head + r4L_k0, left_head + r4L_k1, left_head + r4L_k2, left_head + r4L_k3, left_head + r4L_k4],
     [fo_left_early + fo_left_late] * 5, (0.140, 0.976), 3, 120),
    (3, 1, "9", r4R_lab, phi_right, [r4R_y0, r4R_y1, r4R_y2, r4R_y3, r4R_y4],
     [right_head + r4R_k0, right_head + r4R_k1, right_head + r4R_k2, right_head + r4R_k3, right_head + r4R_k4],
     [fo_right_early + fo_r4R_late0, fo_right_early + fo_r4R_late1, fo_right_early + fo_r4R_late2,
      fo_right_early + fo_r4R_late3, fo_right_early + fo_r4R_late3], (0.138, 0.981), 3, 120),
    (4, 0, "10", r5L_lab, phi_left, [r5L_y0, r5L_y1, r5L_y2, r5L_y3, r5L_y4],
     [left_head + r5L_k0, left_head + r5L_k1, left_head + r5L_k2, left_head + r5L_k3, left_head + r5L_k4],
     [fo_left_early + fo_left_late] * 5, (0.140, 0.976), 3, 121),
    (4, 1, "10", r5R_lab, phi_right, [r5R_y0, r5R_y1, r5R_y2, r5R_y3, r5R_y4],
     [right_head + r5R_k0, right_head + r5R_k1, right_head + r5R_k2, right_head + r5R_k3, right_head + r5R_k4],
     [fo_right_early + fo_right_late] * 5, (0.138, 0.981), 3, 121),
    (5, 0, "11", r6L_lab, phi_left, [r6L_y0, r6L_y1, r6L_y2, r6L_y3, r6L_y4],
     [left_head + r6L_k0, left_head + r6L_k1, left_head + r6L_k2, left_head + r6L_k3, left_head + r6L_k4],
     [fo_left_early + fo_left_late] * 5, (0.309, 0.976), 2, 143),
    (5, 1, "11", r6R_lab, phi_right, [r6R_y0, r6R_y1, r6R_y2, r6R_y3, r6R_y4],
     [right_head6 + r6R_k0, right_head6 + r6R_k1, right_head6 + r6R_k2, right_head6 + r6R_k3, right_head6 + r6R_k4],
     [fo_right_early + fo_right_late] * 5, (0.312, 0.981), 2, 143),
]

for (row, col, sym, labels, xs, ys, knots, fos, box, ncol, pitch) in panels:
    ax = setup_axes(row, col)
    norm = norm_left if col == 0 else norm_right
    for k in range(5):
        draw_curve(ax, xs, ys[k], knots[k], fos[k], norm, k)
    draw_key(ax, sym, labels, box, ncol, pitch)

    yc = 1 - (ROW_TOP0 + ROW_STEP * row + AX_H / 2) / FIG_H
    if col == 0:
        fig.text(20 / FIG_W, yc, "%d)" % (row + 1), fontsize=17, family="cmb10",
                 ha="center", va="center")
        fig.text(57 / FIG_W, yc, r"$P^{*}$", fontsize=15, ha="center", va="center", rotation=90)

# colour bars
for col, (vmin, vmax) in enumerate([(-5, 0), (-5, 1)]):
    cax = fig.add_axes([COL_X[col] / FIG_W, 1 - 85.0 / FIG_H, COL_W / FIG_W, 19.7 / FIG_H])
    sm = ScalarMappable(norm=Normalize(vmin, vmax), cmap=cmap)
    ticks = list(range(vmin, vmax + 1))
    cb = fig.colorbar(sm, cax=cax, orientation="horizontal", ticks=ticks)
    cb.outline.set_linewidth(0.9)
    cax.xaxis.set_ticks_position("top")
    cax.xaxis.set_label_position("top")
    cax.set_xticklabels([("$-%d$" % -t) if t < 0 else "$%d$" % t for t in ticks], fontsize=15)
    cax.tick_params(length=0, pad=5)
    for t in ticks[1:-1]:
        cax.axvline(t, color="#bbbbbb", lw=0.8, alpha=0.6)
    xc = (COL_X[col] + COL_W / 2) / FIG_W
    fig.text(xc, 1 - 17.5 / FIG_H, r"$\log_{10}\mathrm{Fo}$", fontsize=15.5, ha="center", va="center")
    fig.text(xc, 1 - 1692.0 / FIG_H, r"$\phi^{*}$", fontsize=15, ha="center", va="center")

fig.savefig("out.png", dpi=100)
